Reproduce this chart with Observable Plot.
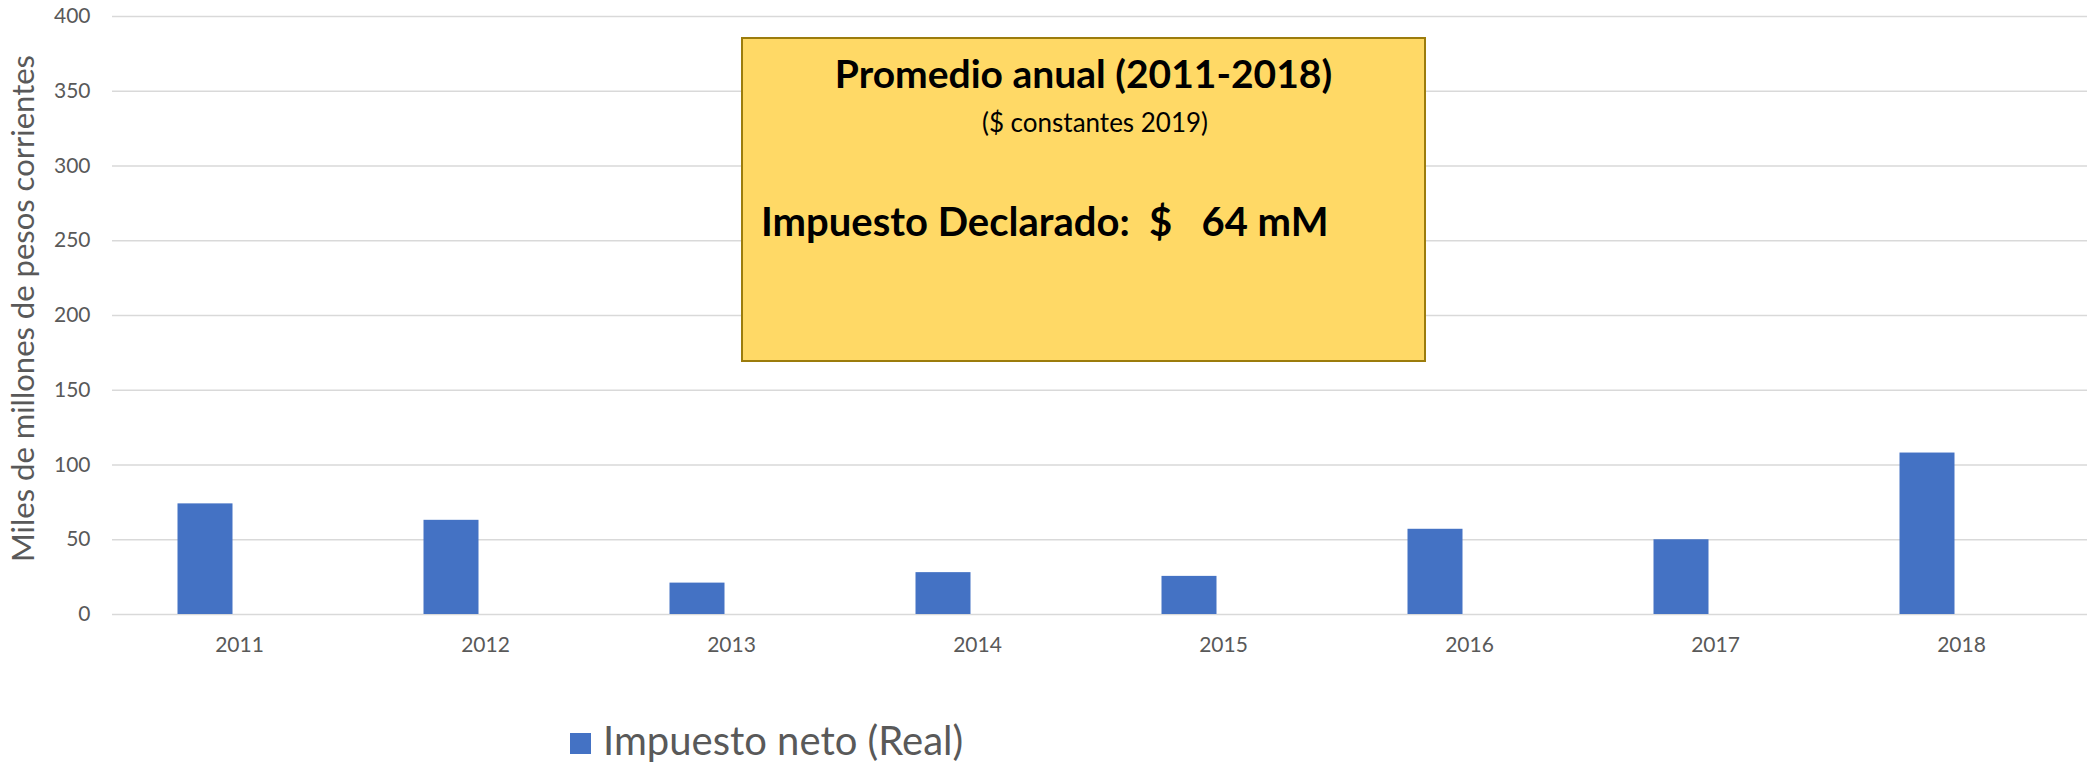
<!DOCTYPE html>
<html>
<head>
<meta charset="utf-8">
<script src="https://cdn.jsdelivr.net/npm/d3@7"></script>
<script src="https://cdn.jsdelivr.net/npm/@observablehq/plot@0.6"></script>
<style>
  html, body { margin: 0; padding: 0; background: #fff; }
  #wrap { position: relative; width: 2093px; height: 763px; overflow: hidden; font-family: Lato, "Open Sans", sans-serif; }
  .abs { position: absolute; line-height: 1; white-space: pre; }
</style>
</head>
<body>
<div id="wrap">
  <div id="chart"></div>
  <div id="box" class="abs" style="left:741px; top:37px; width:681px; height:321px; background:#FFD966; border:2px solid #9c7c0c;"></div>
  <div id="t1" class="abs" style="left:741px; width:685px; text-align:center; top:54px; font-weight:700; font-size:39px; color:#000;"></div>
  <div id="t2" class="abs" style="left:741px; width:708px; text-align:center; top:109px; font-size:26px; color:#000;"></div>
  <div id="t3" class="abs" style="left:761px; top:201px; font-weight:700; font-size:40px; color:#000;"></div>
  <div id="legend" class="abs" style="left:570px; top:720px; font-size:40px; color:#595959;">
    <span id="sw" style="position:absolute; left:0; top:13px; width:21px; height:21px; background:#4472C4;"></span>
    <span id="lg" style="position:absolute; left:33px; top:0;"></span>
  </div>
</div>
<script>
const years = ["2011", "2012", "2013", "2014", "2015", "2016", "2017", "2018"];
const impuestoNeto = [74, 63, 21, 28, 25.5, 57, 50, 108];
const yTicks = [0, 50, 100, 150, 200, 250, 300, 350, 400];
const seriesName = "Impuesto neto (Real)";
const yLabel = "Miles de millones de pesos corrientes";
const boxTitle = "Promedio anual (2011-2018)";
const boxSubtitle = "($ constantes 2019)";
const boxValue = "Impuesto Declarado:  $   64 mM";

const data = years.map((y, i) => ({year: y, value: impuestoNeto[i]}));

const chart = Plot.plot({
  width: 2093,
  height: 700,
  marginTop: 16,
  marginBottom: 86,
  marginLeft: 112,
  marginRight: 6,
  style: {fontFamily: "Lato, 'Open Sans', sans-serif", fontSize: "21px", color: "#595959", background: "#fff"},
  x: {domain: years, padding: 0},
  y: {domain: [0, 400]},
  marks: [
    Plot.gridY(yTicks, {stroke: "#d9d9d9", strokeOpacity: 1, strokeWidth: 1.4}),
    Plot.barY(data, {x: "year", y: "value", fill: "#4472C4", insetLeft: 61.5, insetRight: 129.5}),
    Plot.axisY(yTicks, {tickSize: 0, tickPadding: 22, label: null, fill: "#595959", fontSize: 21}),
    Plot.axisX({tickSize: 0, tickPadding: 23, label: null, fill: "#595959", fontSize: 21}),
    Plot.text([yLabel], {text: d => d, frameAnchor: "left", rotate: -90, dx: -88, dy: -7, fontSize: 31, fill: "#595959", textAnchor: "middle", lineAnchor: "middle"})
  ]
});
document.getElementById("chart").appendChild(chart);
document.getElementById("t1").textContent = boxTitle;
document.getElementById("t2").textContent = boxSubtitle;
document.getElementById("t3").textContent = boxValue;
document.getElementById("lg").textContent = seriesName;
</script>
</body>
</html>
